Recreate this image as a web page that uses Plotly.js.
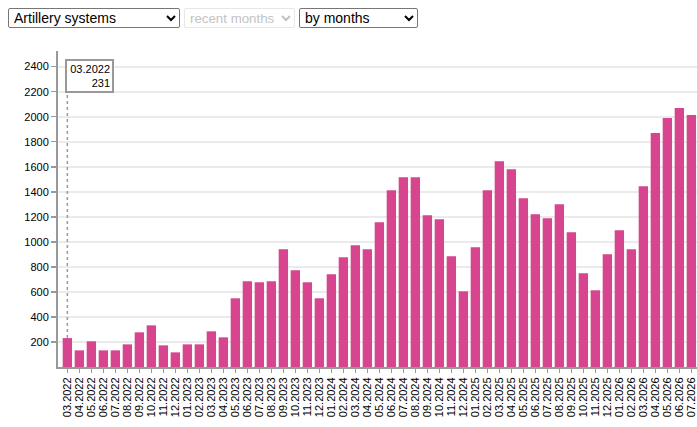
<!DOCTYPE html>
<html>
<head>
<meta charset="utf-8">
<script src="https://cdn.plot.ly/plotly-3.0.1.min.js"></script>
<style>
  body { margin: 0; width: 697px; height: 427px; overflow: hidden; background: #fff; font-family: Arial, "Liberation Sans", sans-serif; }
  #controls { position: absolute; left: 8px; top: 8px; z-index: 10; display: flex; gap: 4px; }
  select { font-family: Arial, "Liberation Sans", sans-serif; font-size: 14px; height: 20px; padding: 0 0 0 1px; border: 1px solid #767676; border-radius: 2px; background: #fff; color: #000; }
  select:disabled { color: #aaa; border-color: #ddd; font-size: 13.3px; }
  #chart { position: absolute; left: 0; top: 0; width: 697px; height: 427px; }
</style>
</head>
<body>
<div id="controls">
  <select style="width:172px"><option>Artillery systems</option></select>
  <select style="width:111px" disabled><option>recent months</option></select>
  <select style="width:119px"><option>by months</option></select>
</div>
<div id="chart"></div>
<script>
const months = [
  "03.2022","04.2022","05.2022","06.2022","07.2022","08.2022","09.2022","10.2022","11.2022","12.2022",
  "01.2023","02.2023","03.2023","04.2023","05.2023","06.2023","07.2023","08.2023","09.2023","10.2023","11.2023","12.2023",
  "01.2024","02.2024","03.2024","04.2024","05.2024","06.2024","07.2024","08.2024","09.2024","10.2024","11.2024","12.2024",
  "01.2025","02.2025","03.2025","04.2025","05.2025","06.2025","07.2025","08.2025","09.2025","10.2025","11.2025","12.2025",
  "01.2026","02.2026","03.2026","04.2026","05.2026","06.2026","07.2026"
];
const artillery = [
  231,133,205,133,133,181,277,333,173,117,
  181,181,285,237,549,685,677,685,941,773,677,549,
  741,877,973,941,1157,1413,1517,1517,1213,1181,885,605,
  957,1413,1645,1581,1349,1221,1189,1301,1077,749,613,901,
  1093,941,1445,1869,1989,2069,2013
];
const yTicks = [200,400,600,800,1000,1200,1400,1600,1800,2000,2200,2400];
const highlightIndex = 0;

const trace = {
  type: "bar",
  x: months,
  y: artillery,
  marker: { color: "#d7458f" },
  hoverinfo: "none"
};

const layout = {
  width: 697,
  height: 427,
  margin: { l: 58, r: 0, t: 51, b: 60 },
  paper_bgcolor: "rgba(0,0,0,0)",
  plot_bgcolor: "#fff",
  showlegend: false,
  bargap: 0.22,
  font: { family: "Arial, 'Liberation Sans', sans-serif", size: 11, color: "#000" },
  xaxis: {
    type: "category",
    range: [-0.78, 52.47],
    tickmode: "array",
    tickvals: months,
    ticktext: months,
    tickangle: -90,
    ticks: "outside",
    ticklen: 4,
    tickwidth: 1.5,
    tickcolor: "#999",
    showline: true,
    linecolor: "#999",
    linewidth: 2,
    showgrid: false,
    tickfont: { size: 11, color: "#000" },
    fixedrange: true
  },
  yaxis: {
    range: [0, 2525],
    tickvals: yTicks,
    ticktext: yTicks.map(String),
    ticks: "outside",
    ticklen: 5,
    tickwidth: 1.5,
    tickcolor: "#999",
    showline: true,
    linecolor: "#999",
    linewidth: 2,
    showgrid: true,
    gridcolor: "#ebebeb",
    gridwidth: 2,
    zeroline: false,
    tickfont: { size: 11, color: "#000" },
    fixedrange: true
  },
  shapes: [{
    type: "line",
    xref: "x", yref: "y",
    x0: highlightIndex, x1: highlightIndex,
    y0: artillery[highlightIndex], y1: 2190,
    line: { color: "#999", width: 1.5, dash: "dot" }
  }],
  annotations: [{
    xref: "x", yref: "paper",
    x: highlightIndex, y: 0.974,
    xanchor: "left", yanchor: "top",
    xshift: -2,
    showarrow: false,
    align: "right",
    width: 41,
    text: months[highlightIndex] + "<br>" + artillery[highlightIndex],
    font: { size: 11, color: "#000" },
    bgcolor: "#fff",
    bordercolor: "#999",
    borderwidth: 2,
    borderpad: 2
  }]
};

Plotly.newPlot("chart", [trace], layout, { displayModeBar: false, staticPlot: true });
</script>
</body>
</html>
